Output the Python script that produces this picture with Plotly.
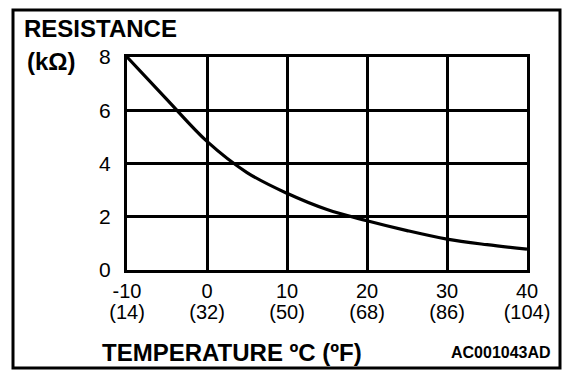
import plotly.graph_objects as go

temp_c = [-10, -5, 0, 5, 10, 15, 20, 25, 30, 35, 40]
resistance_kohm = [8.0, 6.4, 4.83, 3.66, 2.88, 2.27, 1.85, 1.48, 1.16, 0.95, 0.78]

tick_c = [-10, 0, 10, 20, 30, 40]
tick_c_text = ["-10", "0", "10", "20", "30", "40"]
tick_f_text = ["(14)", "(32)", "(50)", "(68)", "(86)", "(104)"]
tick_r = [0, 2, 4, 6, 8]

FONT = "Liberation Sans, Arial, sans-serif"

# page body has an 8px margin, so the figure is laid out 8px smaller
W, H = 568, 376
L, T = 119, 49
PW, PH = 400, 213

fig = go.Figure()
fig.add_trace(go.Scatter(x=temp_c, y=resistance_kohm, mode="lines",
                         line=dict(color="black", width=3.2, shape="spline"),
                         hoverinfo="skip", showlegend=False))
fig.add_trace(go.Scatter(x=temp_c, y=resistance_kohm, mode="lines", xaxis="x2",
                         line=dict(color="rgba(0,0,0,0)", width=0),
                         hoverinfo="skip", showlegend=False))


def px(x):  # target picture x pixel -> paper
    return (x - 127) / PW


def py(y):  # target picture y pixel -> paper
    return (270 - y) / PH


fig.update_layout(
    width=W, height=H,
    margin=dict(l=L, r=W - L - PW, t=T, b=H - T - PH, autoexpand=False),
    paper_bgcolor="white", plot_bgcolor="white",
    font=dict(family=FONT, color="black"),
    xaxis=dict(range=[-10, 40], tickvals=tick_c, ticktext=tick_c_text,
               showgrid=True, gridcolor="black", gridwidth=2.5,
               showline=True, linecolor="black", linewidth=3, mirror=True,
               ticks="", zeroline=False, tickfont=dict(size=20),
               ticklabelstandoff=1),
    xaxis2=dict(range=[-10, 40], overlaying="x", anchor="y", side="bottom",
                tickvals=tick_c, ticktext=tick_f_text, showgrid=False,
                showline=False, ticks="", zeroline=False,
                tickfont=dict(size=20), ticklabelstandoff=28),
    yaxis=dict(range=[0, 8], tickvals=tick_r,
               showgrid=True, gridcolor="black", gridwidth=2.5,
               showline=True, linecolor="black", linewidth=3, mirror=True,
               ticks="", zeroline=False, tickfont=dict(size=21),
               ticklabelstandoff=9),
    shapes=[dict(type="rect", xref="paper", yref="paper",
                 x0=px(13), x1=px(560), y0=py(368), y1=py(10),
                 line=dict(color="black", width=3), layer="below")],
    annotations=[
        dict(text="<b>RESISTANCE</b>", x=px(22), y=py(28), xref="paper", yref="paper",
             showarrow=False, xanchor="left", yanchor="middle",
             font=dict(size=24)),
        dict(text="<b>(kΩ)</b>", x=px(25), y=py(61), xref="paper", yref="paper",
             showarrow=False, xanchor="left", yanchor="middle", font=dict(size=24)),
        dict(text="<b>TEMPERATURE ºC (ºF)</b>", x=px(100), y=py(352), xref="paper",
             yref="paper", showarrow=False, xanchor="left", yanchor="middle",
             font=dict(size=24)),
        dict(text="<b>AC001043AD</b>", x=px(553), y=py(352), xref="paper",
             yref="paper", showarrow=False, xanchor="right", yanchor="middle",
             font=dict(size=16)),
    ],
)

fig.write_html("out.html")
